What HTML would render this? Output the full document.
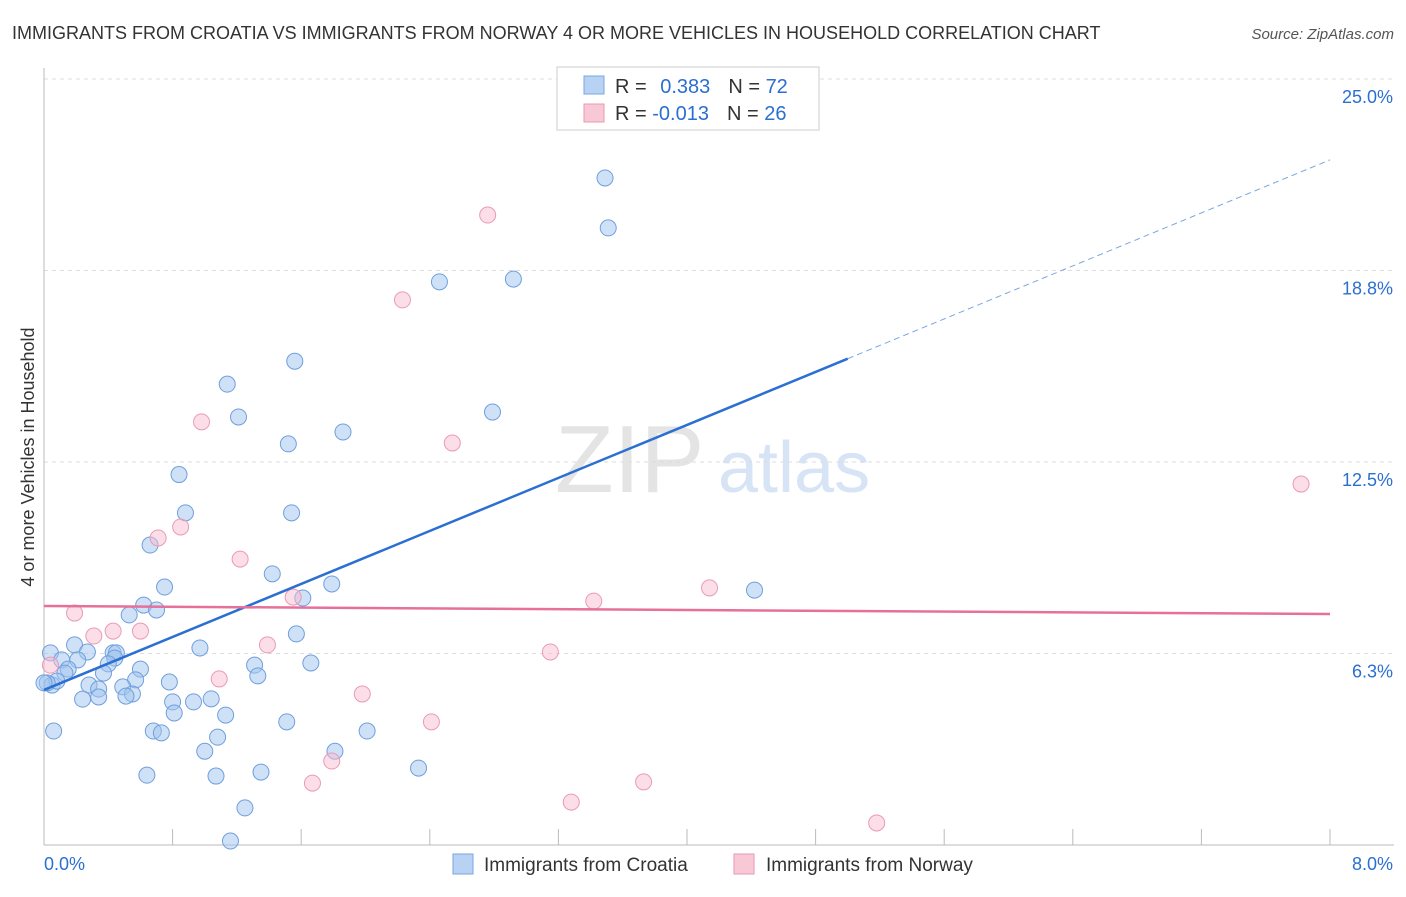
<!DOCTYPE html>
<html><head><meta charset="utf-8"><style>
body{margin:0;background:#fff;font-family:"Liberation Sans",sans-serif;}
svg text{font-family:"Liberation Sans",sans-serif;}
</style></head><body>
<svg width="1406" height="892" id="chart">
<text x="12" y="39" font-size="18" fill="#333">IMMIGRANTS FROM CROATIA VS IMMIGRANTS FROM NORWAY 4 OR MORE VEHICLES IN HOUSEHOLD CORRELATION CHART</text>
<text x="1394" y="39" font-size="15" fill="#555" font-style="italic" text-anchor="end">Source: ZipAtlas.com</text>
<text x="34" y="457" font-size="18" fill="#333" text-anchor="middle" transform="rotate(-90 34 457)">4 or more Vehicles in Household</text>
<text x="555" y="492" font-size="96" fill="#e4e4e4" font-family="Liberation Serif">ZIP</text>
<text x="718" y="492" font-size="72" fill="#d6e4f5">atlas</text>
<g id="grid"></g><g id="marks"></g>
<g>
<rect x="557" y="67" width="262" height="63" fill="#fff" stroke="#ccc"/>
<rect x="584" y="76" width="20" height="18" fill="#b8d2f4" stroke="#7aa6e0"/>
<rect x="584" y="104" width="20" height="18" fill="#f8c8d6" stroke="#e99ab3"/>
<text x="615" y="93" font-size="20" fill="#333">R = <tspan fill="#2a6fd1" dx="8">0.383</tspan><tspan dx="18" fill="#333">N = </tspan><tspan fill="#2a6fd1">72</tspan></text>
<text x="615" y="120" font-size="20" fill="#333">R = <tspan fill="#2a6fd1">-0.013</tspan><tspan dx="18" fill="#333">N = </tspan><tspan fill="#2a6fd1">26</tspan></text>
</g>
<g>
<rect x="453" y="854" width="20" height="20" fill="#b8d2f4" stroke="#7aa6e0"/>
<text x="484" y="871" font-size="19" fill="#333">Immigrants from Croatia</text>
<rect x="734" y="854" width="20" height="20" fill="#f8c8d6" stroke="#e99ab3"/>
<text x="766" y="871" font-size="19" fill="#333">Immigrants from Norway</text>
</g>
</svg>
<script>
const xTicks=["0.0%","8.0%"];
const yTicks=[6.25,12.5,18.75,25];
const yTickLabels=["6.3%","12.5%","18.8%","25.0%"];
const croatiaX=[3.49,3.51,2.46,2.92,1.56,1.14,1.21,2.79,1.52,1.86,0.84,0.88,1.54,0.66,0.75,1.42,1.79,1.61,4.42,0.62,0.70,0.53,1.57,0.43,0.45,0.19,0.27,0.97,0.04,0.11,0.21,0.44,0.40,0.60,0.15,1.31,1.66,0.37,1.33,0.13,0.57,0.78,0.28,0.34,0.49,0.05,0.08,0.02,0.55,0.34,0.51,0.24,0.93,1.04,0.80,0.81,1.13,0.68,0.73,0.06,1.51,2.01,1.08,1.81,1.00,0.64,1.07,1.35,2.33,1.25,1.16,0.0];
const croatiaY=[21.77,20.14,18.38,18.47,15.79,15.04,13.97,14.13,13.09,13.48,12.09,10.84,10.84,9.79,8.42,8.85,8.52,8.06,8.32,7.83,7.67,7.51,6.89,6.27,6.27,6.53,6.30,6.43,6.27,6.04,6.04,6.10,5.91,5.74,5.74,5.87,5.94,5.61,5.52,5.61,5.39,5.32,5.22,5.09,5.16,5.22,5.35,5.29,4.93,4.83,4.86,4.76,4.67,4.77,4.67,4.31,4.24,3.72,3.66,3.72,4.02,3.72,3.52,3.06,3.06,2.28,2.25,2.38,2.51,1.21,0.13,5.29];
const norwayX=[2.76,2.23,0.98,2.54,0.85,0.71,1.22,7.82,4.14,3.42,1.55,0.19,0.43,0.60,0.31,1.39,3.15,0.04,1.09,1.98,2.41,1.79,1.67,3.73,3.28,5.18];
const norwayY=[20.56,17.79,13.81,13.12,10.38,10.02,9.33,11.78,8.39,7.96,8.09,7.57,6.98,6.98,6.82,6.53,6.30,5.87,5.42,4.93,4.02,2.74,2.02,2.06,1.40,0.72];
const blueLine=[5.06,22.36], pinkLine=[7.80,7.54];
const X0=44,X1=1330,Y0=845,YT=79,XMAX=8,YMAX=25;
const sx=v=>X0+v/XMAX*(X1-X0), sy=v=>Y0-v/YMAX*(Y0-YT);
const NS="http://www.w3.org/2000/svg";
const g=document.getElementById('grid'), m=document.getElementById('marks');
function mk(p,tag,a){const e=document.createElementNS(NS,tag);for(const k in a)e.setAttribute(k,a[k]);p.appendChild(e);return e;}
yTicks.forEach((t,i)=>{
 const l=mk(g,'line',{x1:X0,x2:1394,y1:sy(t),y2:sy(t),stroke:'#ddd','stroke-dasharray':'4,4'});
 
 
 const tx=mk(g,'text',{x:1393,y:sy(t)+24,'font-size':18,fill:'#2a6fd1','text-anchor':'end'});
 tx.textContent=yTickLabels[i];
 
 
});
mk(g,'line',{x1:X0,x2:X0,y1:68,y2:Y0,stroke:'#bbb'});
mk(g,'line',{x1:X0,x2:1394,y1:Y0,y2:Y0,stroke:'#bbb'});
for(let i=0;i<=10;i++){const x=sx(i*0.8);const t=mk(g,'line',{x1:x,x2:x,y1:829,y2:Y0,stroke:'#bbb'});
 
 }
const xl0=mk(g,'text',{x:44,y:870,'font-size':18,fill:'#2a6fd1'});xl0.textContent=xTicks[0];


const xl1=mk(g,'text',{x:1393,y:870,'font-size':18,fill:'#2a6fd1','text-anchor':'end'});xl1.textContent=xTicks[1];


croatiaX.forEach((v,i)=>{const c=mk(m,'circle',{cx:sx(v),cy:sy(croatiaY[i]),r:8,fill:'rgba(160,195,240,0.5)',stroke:'#6f9fdc','stroke-width':1});
 
 });
norwayX.forEach((v,i)=>{const c=mk(m,'circle',{cx:sx(v),cy:sy(norwayY[i]),r:8,fill:'rgba(248,190,210,0.5)',stroke:'#ea9ab5','stroke-width':1});
 
 });
const bx=5.0, by=blueLine[0]+(blueLine[1]-blueLine[0])*bx/XMAX;
const bl=mk(m,'line',{x1:sx(0),y1:sy(blueLine[0]),x2:sx(bx),y2:sy(by),stroke:'#2a6fd1','stroke-width':2.5});


const bd=mk(m,'line',{x1:sx(bx),y1:sy(by),x2:sx(XMAX),y2:sy(blueLine[1]),stroke:'#7aa6e0','stroke-width':1,'stroke-dasharray':'6,4'});


const pl=mk(m,'line',{x1:sx(0),y1:sy(pinkLine[0]),x2:sx(XMAX),y2:sy(pinkLine[1]),stroke:'#e6709a','stroke-width':2.5});


</script>
</body></html>
